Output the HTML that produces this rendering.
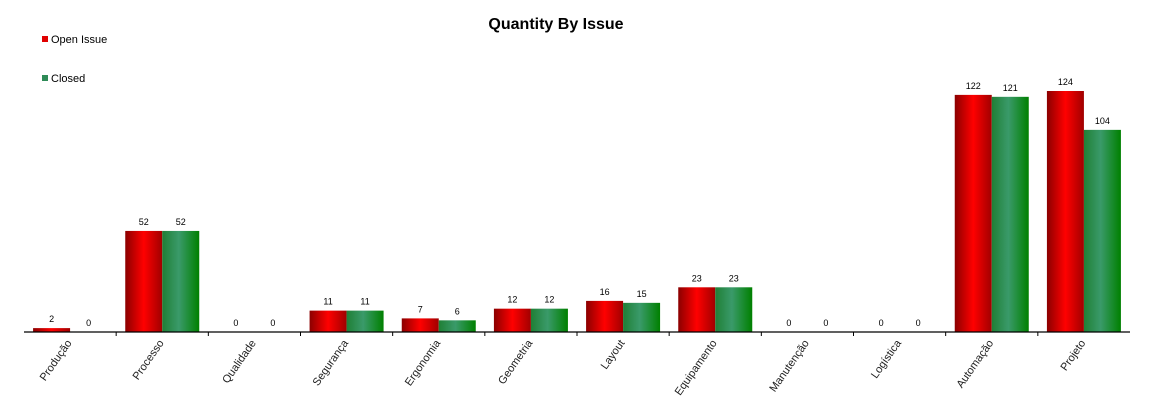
<!DOCTYPE html>
<html><head><meta charset="utf-8"><style>
body{margin:0;background:#fff;}
svg{display:block;font-family:"Liberation Sans",Arial,sans-serif;}
</style></head><body>
<svg id="chart" width="1159" height="402" viewBox="0 0 1159 402">
<defs>
<linearGradient id="gr" x1="0" x2="1" y1="0" y2="0"><stop offset="0" stop-color="#8b0000"/><stop offset="0.5" stop-color="#ff0000"/><stop offset="1" stop-color="#a00000"/></linearGradient>
<linearGradient id="gg" x1="0" x2="1" y1="0" y2="0"><stop offset="0" stop-color="#1f7f35"/><stop offset="0.45" stop-color="#3a9a6a"/><stop offset="1" stop-color="#008000"/></linearGradient>
</defs>
<text x="556" y="29" text-anchor="middle" font-size="16" font-weight="bold">Quantity By Issue</text>
<g><rect x="42" y="36" width="6" height="6" fill="#e00000"/><text x="51" y="43" font-size="11">Open Issue</text></g>
<g><rect x="42" y="75" width="6" height="6" fill="#2e8b57"/><text x="51" y="82" font-size="11">Closed</text></g>
<g id="plot"></g>
</svg>
<script>
const categories=["Produção","Processo","Qualidade","Segurança","Ergonomia","Geometria","Layout","Equipamento","Manutenção","Logística","Automação","Projeto"];
const openValues=[2,52,0,11,7,12,16,23,0,0,122,124];
const closedValues=[0,52,0,11,6,12,15,23,0,0,121,104];
const NS="http://www.w3.org/2000/svg";
const g=document.getElementById('plot');
const x0=24,x1=1130,base=332,step=(x1-x0)/categories.length,bw=37;
const yScale=v=>base-v*241/124;
function mk(t,a){const e=document.createElementNS(NS,t);for(const k in a)e.setAttribute(k,a[k]);g.appendChild(e);return e;}
categories.forEach((c,i)=>{
  const cx=x0+step*(i+0.5);
  [[openValues[i],cx-bw,'url(#gr)','bar-open-'],[closedValues[i],cx,'url(#gg)','bar-closed-']].forEach(([v,x,f,n])=>{
    const y=yScale(v);
    const r=mk('rect',{x:x,y:y,width:bw,height:base-y,fill:f});
    
    
    const t=mk('text',{x:x+bw/2,y:y-6,'text-anchor':'middle','font-size':'9'});
    t.textContent=v;
    
    
  });
  const l=mk('text',{transform:`translate(${cx+2},${343}) rotate(-55)`,'text-anchor':'end','font-size':'11',fill:'#222'});
  l.textContent=c;
  
  
  if(i>0){const tk=mk('line',{x1:x0+step*i,x2:x0+step*i,y1:base,y2:base+4,stroke:'#000'});
    
    }
});
const ax=mk('line',{x1:x0,x2:x1,y1:base,y2:base,stroke:'#000','stroke-width':1.2});


</script>
</body></html>
